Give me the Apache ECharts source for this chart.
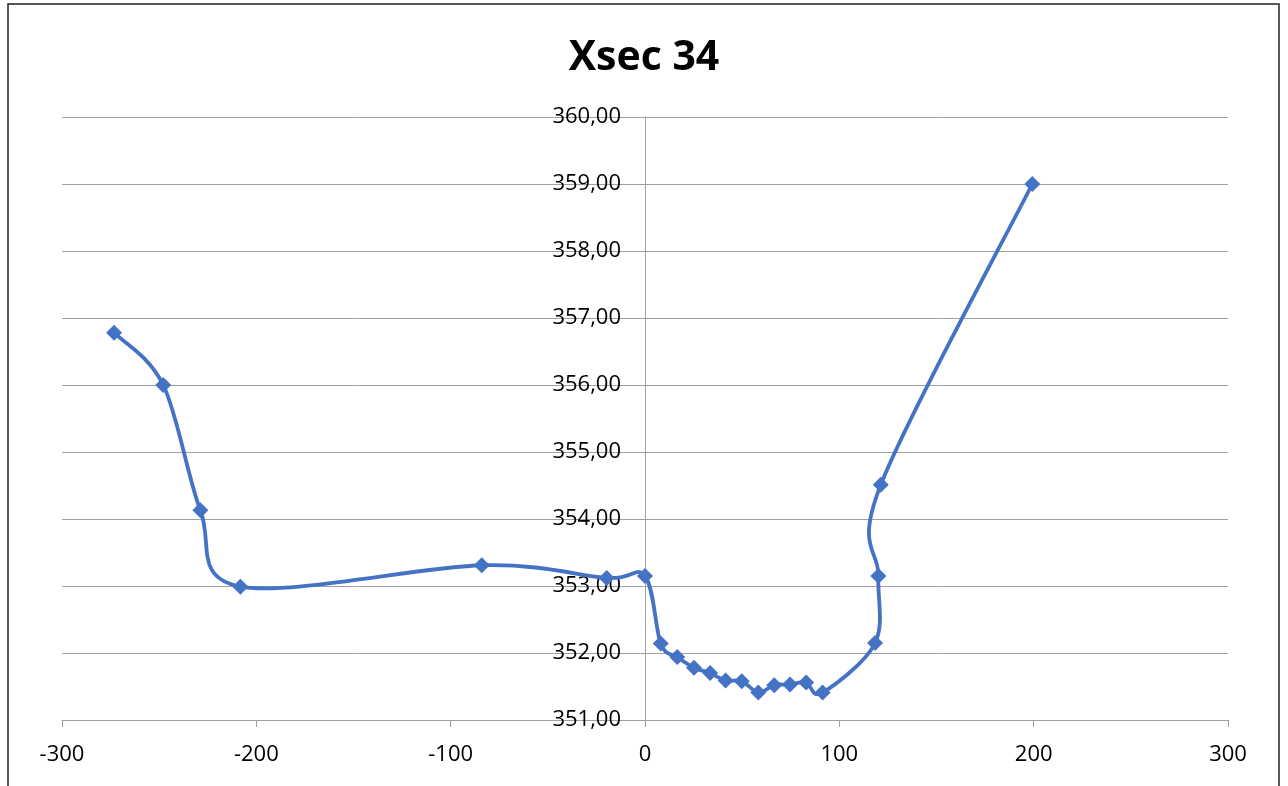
<!DOCTYPE html>
<html>
<head>
<meta charset="utf-8">
<script src="https://cdn.jsdelivr.net/npm/echarts@6/dist/echarts.min.js"></script>
<style>
html,body{margin:0;padding:0;background:#fff;}
#main{width:1288px;height:786px;}
</style>
</head>
<body>
<div id="main"></div>
<script>
const titleText = 'Xsec 34';
const xValues = [-273.2, -247.9, -228.8, -208.2, -84.0, -19.7, 0, 8.1, 16.6, 25.2, 33.5, 41.5, 49.8, 58.3, 66.5, 74.6, 82.9, 91.4, 118.4, 120.1, 121.3, 199.3];
const yValues = [356.78, 356.00, 354.13, 352.99, 353.31, 353.12, 353.15, 352.14, 351.94, 351.78, 351.70, 351.59, 351.58, 351.41, 351.52, 351.53, 351.56, 351.41, 352.15, 353.15, 354.51, 359.00];
const xTicks = [-300, -200, -100, 0, 100, 200, 300];
const yTicks = [351, 352, 353, 354, 355, 356, 357, 358, 359, 360];

const points = xValues.map((x, i) => [x, yValues[i]]);
const GRID_LEFT = 62, GRID_RIGHT = 60, CHART_W = 1288;
const plotW = CHART_W - GRID_LEFT - GRID_RIGHT;
// y axis crosses the x axis at x = 0
const yAxisOffset = -plotW * (0 - xTicks[0]) / (xTicks[xTicks.length - 1] - xTicks[0]);

const chart = echarts.init(document.getElementById('main'), null, {renderer: 'canvas'});
const gridColor = '#a0a0a0';
const lineColor = '#4472C4';
const font = "'Open Sans', sans-serif";

// Excel-like smoothed curve (Catmull-Rom converted to Bezier), using the axis scales via api.coord
function renderSegment(params, api) {
  const i = params.dataIndex;
  const n = points.length;
  if (i >= n - 1) return null;
  const p = j => api.coord(points[Math.max(0, Math.min(n - 1, j))]);
  const p0 = p(i - 1), p1 = p(i), p2 = p(i + 1), p3 = p(i + 2);
  const k = 1 / 6;
  return {
    type: 'bezierCurve',
    shape: {
      x1: p1[0], y1: p1[1], x2: p2[0], y2: p2[1],
      cpx1: p1[0] + (p2[0] - p0[0]) * k, cpy1: p1[1] + (p2[1] - p0[1]) * k,
      cpx2: p2[0] - (p3[0] - p1[0]) * k, cpy2: p2[1] - (p3[1] - p1[1]) * k
    },
    style: {stroke: lineColor, lineWidth: 3.8, fill: null, lineCap: 'round'}
  };
}

chart.setOption({
  animation: false,
  backgroundColor: '#fff',
  title: {
    text: titleText,
    left: 'center',
    top: 28,
    textStyle: {fontFamily: font, fontWeight: 'bold', fontSize: 41, color: '#000', lineHeight: 50}
  },
  graphic: [{
    type: 'rect',
    shape: {x: 8, y: 4, width: 1271, height: 810},
    style: {fill: 'none', stroke: '#222', lineWidth: 1.5},
    silent: true
  }],
  grid: {left: GRID_LEFT, right: GRID_RIGHT, top: 117, bottom: 66, containLabel: false, outerBoundsMode: 'none'},
  xAxis: {
    type: 'value',
    min: xTicks[0],
    max: xTicks[xTicks.length - 1],
    interval: 100,
    axisLine: {show: true, onZero: false, lineStyle: {color: gridColor, width: 1}},
    axisTick: {show: true, length: 7, lineStyle: {color: gridColor}},
    splitLine: {show: false},
    axisLabel: {color: '#000', fontFamily: font, fontSize: 22, margin: 24}
  },
  yAxis: {
    type: 'value',
    min: yTicks[0],
    max: yTicks[yTicks.length - 1],
    interval: 1,
    offset: yAxisOffset,
    axisLine: {show: true, onZero: false, lineStyle: {color: gridColor, width: 1}},
    axisTick: {show: true, length: 8, lineStyle: {color: gridColor}},
    splitLine: {show: true, lineStyle: {color: gridColor, width: 1}},
    axisLabel: {
      color: '#000', fontFamily: font, fontSize: 22, margin: 24,
      formatter: v => v.toFixed(2).replace('.', ',')
    }
  },
  series: [{
    type: 'custom',
    data: points,
    renderItem: renderSegment,
    clip: false,
    silent: true,
    z: 4
  }, {
    type: 'scatter',
    data: points,
    symbol: 'diamond',
    symbolSize: 16,
    itemStyle: {color: lineColor, opacity: 1},
    z: 5
  }]
});
</script>
</body>
</html>
